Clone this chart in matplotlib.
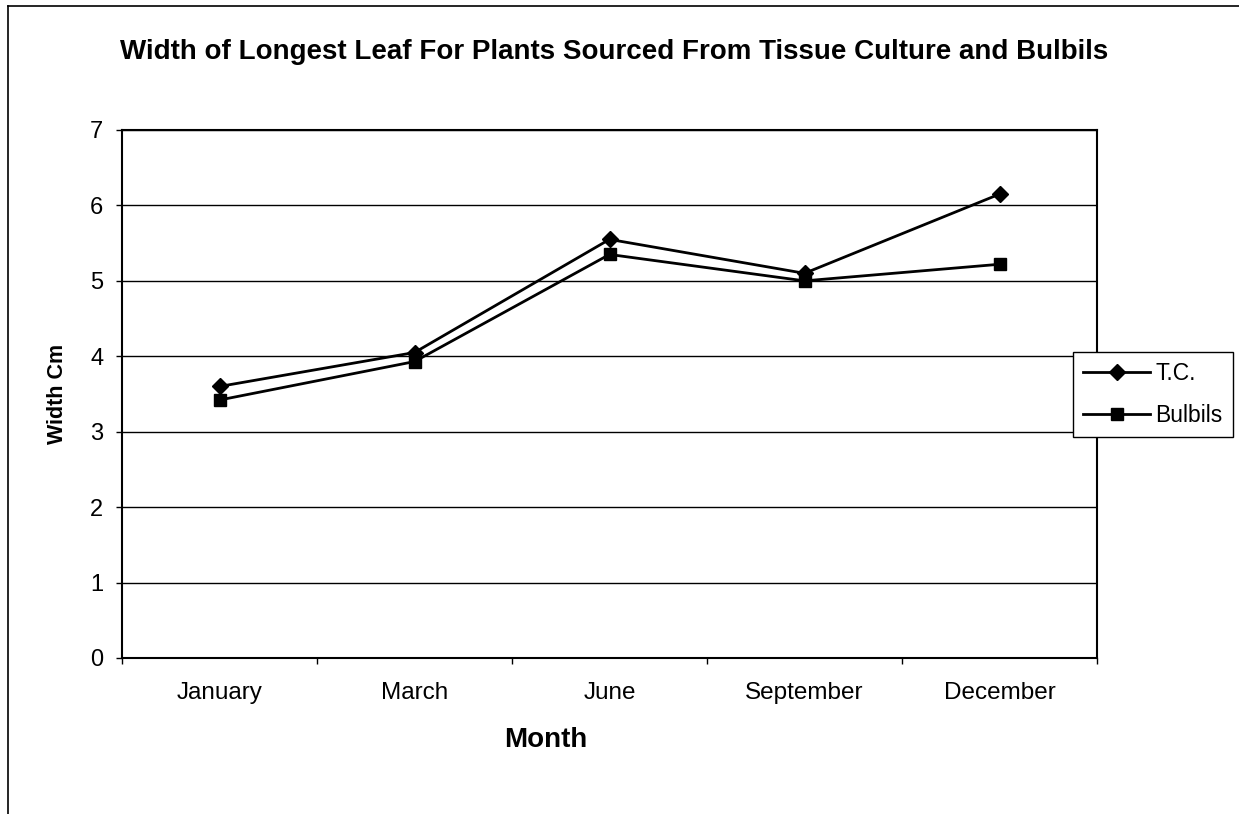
import matplotlib.pyplot as plt
from matplotlib.lines import Line2D

plt.rcParams['font.family'] = ['Liberation Sans', 'DejaVu Sans']

months = ['January', 'March', 'June', 'September', 'December']
tc = [3.6, 4.05, 5.55, 5.1, 6.15]
bulbils = [3.42, 3.93, 5.35, 5.0, 5.22]

W, H = 1239, 814
fig = plt.figure(figsize=(W / 100, H / 100), dpi=100)
ax = fig.add_axes([122 / W, (H - 658) / H, (1097 - 122) / W, (658 - 130) / H])

x = [i + 0.5 for i in range(len(months))]
ax.plot(x, tc, color='black', lw=2, marker='D', ms=8, label='T.C.')
ax.plot(x, bulbils, color='black', lw=2, marker='s', ms=8, label='Bulbils')

ax.set_xlim(0, len(months))
ax.set_ylim(0, 7)
ax.set_yticks(range(0, 8))
ax.set_xticks(range(0, len(months) + 1))
ax.set_xticklabels([])
ax.set_xticks(x, minor=True)
ax.set_xticklabels(months, minor=True, fontsize=17.5)
ax.tick_params(axis='x', which='minor', length=0, pad=17.5)
ax.tick_params(axis='x', which='major', direction='out', length=4.5, width=1)
ax.tick_params(axis='y', direction='out', length=4.5, width=1, labelsize=17, pad=9)
ax.yaxis.grid(True, color='black', lw=1)
ax.set_axisbelow(True)
for s in ax.spines.values():
    s.set_linewidth(1.5)
    s.set_color('black')

ax.set_ylabel('Width Cm', fontsize=15.5, fontweight='bold', labelpad=16)
fig.text(546 / W, 1 - 740 / H, 'Month', fontsize=20, fontweight='bold',
         ha='center', va='center')
fig.text(614 / W, 1 - 52 / H,
         'Width of Longest Leaf For Plants Sourced From Tissue Culture and Bulbils',
         fontsize=20, fontweight='bold', ha='center', va='center')

leg = fig.legend(loc='upper left', bbox_to_anchor=(1073 / W, 1 - 352 / H),
                 fontsize=16.5, frameon=True, fancybox=False, edgecolor='black',
                 framealpha=1, handlelength=2.9, borderpad=0.45, labelspacing=0.8,
                 handletextpad=0.25, borderaxespad=0)
leg.get_frame().set_linewidth(1)
leg.set_zorder(10)

# outer chart border (top and left edges)
fig.add_artist(Line2D([8 / W, 1], [1 - 6 / H, 1 - 6 / H], color='black', lw=1.2))
fig.add_artist(Line2D([8 / W, 8 / W], [0, 1 - 6 / H], color='black', lw=1.2))

fig.savefig('out.png', dpi=100)
